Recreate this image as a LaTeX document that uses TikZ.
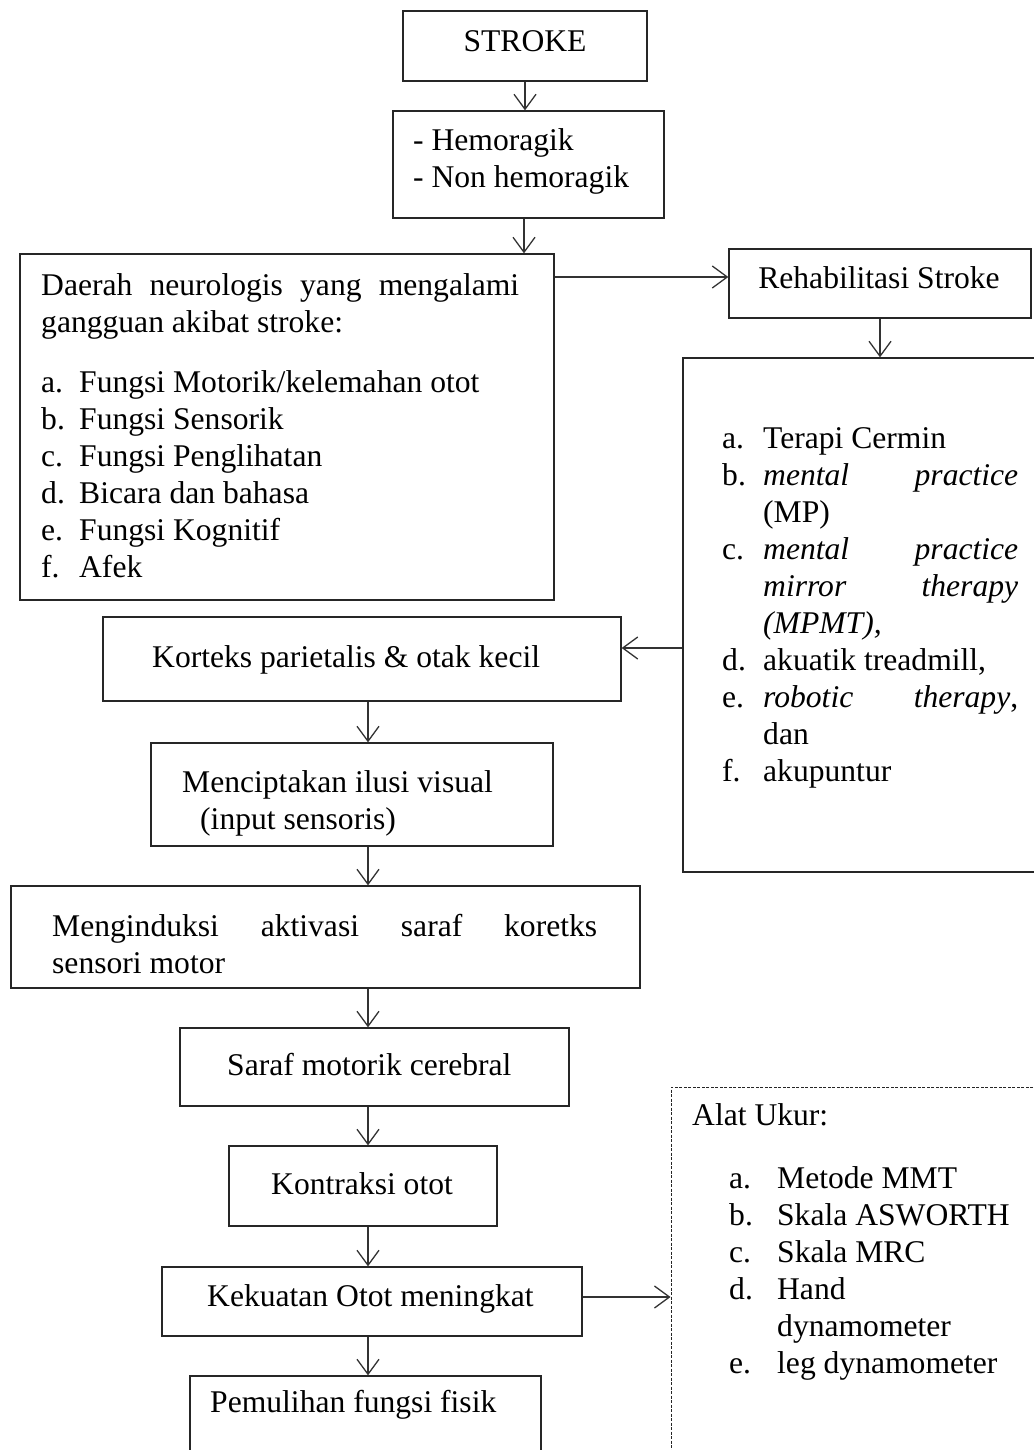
\documentclass[tikz,border=0pt]{standalone}
\usepackage{fontspec}
\setmainfont{Liberation Serif}
\usetikzlibrary{arrows.meta}
\begin{document}
\begin{tikzpicture}[x=1pt,y=-1pt,
  box/.style={draw=black!85, line width=1.3pt, inner sep=0pt, rectangle},
  dbox/.style={draw=black!85, line width=0.9pt, dash pattern=on 3pt off 1.5pt, inner sep=0pt, rectangle},
  txt/.style={inner sep=0pt, font=\fontsize{31.6}{37}\selectfont, text=black},
  blk/.style={txt, align=left, anchor=north west},
  arr/.style={draw=black!80, line width=1.3pt, -{Straight Barb[length=15pt,width=22pt]}}]
\useasboundingbox (0,0) rectangle (1033,1450);
\coordinate (spine) at (368,0);

% boxes
\node[box, minimum width=244pt, minimum height=70pt]  (stroke)  at (525,46) {};
\node[box, minimum width=271pt, minimum height=107pt] (hemo)    at (528.5,164.5) {};
\node[box, minimum width=534pt, minimum height=346pt] (daerah)  at (287,427) {};
\node[box, minimum width=302pt, minimum height=69pt]  (rehab)   at (880,283.5) {};
\node[box, minimum width=360pt, minimum height=514pt] (listbox) at (863,615) {};
\node[box, minimum width=518pt, minimum height=84pt]  (kort)    at (362,659) {};
\node[box, minimum width=402pt, minimum height=103pt] (menc)    at (352,794.5) {};
\node[box, minimum width=629pt, minimum height=102pt] (meng)    at (325.5,937) {};
\node[box, minimum width=389pt, minimum height=78pt]  (saraf)   at (374.5,1067) {};
\node[box, minimum width=268pt, minimum height=80pt]  (kontr)   at (363,1186) {};
\node[box, minimum width=420pt, minimum height=69pt]  (kek)     at (372,1301.5) {};
\node[box, minimum width=351pt, minimum height=94pt]  (pemul)   at (365.5,1423) {};
\node[dbox, minimum width=372pt, minimum height=383pt] (alat)   at (857,1278.5) {};

% texts
\node[txt, anchor=base] (tstroke) at (525,52) {STROKE};
\node[blk] (themo) at (413,124.1) {\strut- Hemoragik\\- Non hemoragik};
\node[blk] (tdaerah) at (41,269.1) {\strut\hbox to 478pt{Daerah\hfill neurologis\hfill yang\hfill mengalami}\\
gangguan akibat stroke:\\[23pt]
\makebox[38pt][l]{a.}Fungsi Motorik/kelemahan otot\\
\makebox[38pt][l]{b.}Fungsi Sensorik\\
\makebox[38pt][l]{c.}Fungsi Penglihatan\\
\makebox[38pt][l]{d.}Bicara dan bahasa\\
\makebox[38pt][l]{e.}Fungsi Kognitif\\
\makebox[38pt][l]{f.}Afek};
\node[txt, anchor=base] (trehab) at (879,288) {Rehabilitasi Stroke};
\node[blk] (tlist) at (722,422.1) {\strut\makebox[41pt][l]{a.}Terapi Cermin\\
\makebox[41pt][l]{b.}\hbox to 255pt{\textit{mental}\hfill\textit{practice}}\\
\hspace*{41pt}(MP)\\
\makebox[41pt][l]{c.}\hbox to 255pt{\textit{mental}\hfill\textit{practice}}\\
\hspace*{41pt}\hbox to 255pt{\textit{mirror}\hfill\textit{therapy}}\\
\hspace*{41pt}\textit{(MPMT),}\\
\makebox[41pt][l]{d.}akuatik treadmill,\\
\makebox[41pt][l]{e.}\hbox to 255pt{\textit{robotic}\hfill\textit{therapy},}\\
\hspace*{41pt}dan\\
\makebox[41pt][l]{f.}akupuntur};
\node[txt, anchor=base west] (tkort) at (152,667) {Korteks parietalis \& otak kecil};
\node[blk] (tmenc) at (182,766.1) {\strut Menciptakan ilusi visual\\\hspace*{18pt}(input sensoris)};
\node[blk] (tmeng) at (52,910.1) {\strut\hbox to 545pt{Menginduksi\hfill aktivasi\hfill saraf\hfill koretks}\\sensori motor};
\node[txt, anchor=base west] (tsaraf) at (227,1075) {Saraf motorik cerebral};
\node[txt, anchor=base west] (tkontr) at (271,1194) {Kontraksi otot};
\node[txt, anchor=base west] (tkek) at (207,1306) {Kekuatan Otot meningkat};
\node[txt, anchor=base west] (tpemul) at (210,1412) {Pemulihan fungsi fisik};
\node[blk] (talat) at (692,1099.1) {\strut Alat Ukur:\\[26pt]
\hspace*{37pt}\makebox[48pt][l]{a.}Metode MMT\\
\hspace*{37pt}\makebox[48pt][l]{b.}Skala ASWORTH\\
\hspace*{37pt}\makebox[48pt][l]{c.}Skala MRC\\
\hspace*{37pt}\makebox[48pt][l]{d.}Hand\\
\hspace*{85pt}dynamometer\\
\hspace*{37pt}\makebox[48pt][l]{e.}leg dynamometer};

% connectors
\draw[arr] (stroke.south) -- (stroke.south |- hemo.north);
\draw[arr] ([xshift=-4.5pt]hemo.south) -- ([xshift=-4.5pt]hemo.south |- daerah.north);
\draw[arr] ([yshift=6.5pt]rehab.west -| daerah.east) -- ([yshift=6.5pt]rehab.west);
\draw[arr] (rehab.south) -- (rehab.south |- listbox.north);
\draw[arr] ([yshift=11pt]kort.east -| listbox.west) -- ([yshift=11pt]kort.east);
\draw[arr] (kort.south -| spine) -- (menc.north -| spine);
\draw[arr] (menc.south -| spine) -- (meng.north -| spine);
\draw[arr] (meng.south -| spine) -- (saraf.north -| spine);
\draw[arr] (saraf.south -| spine) -- (kontr.north -| spine);
\draw[arr] (kontr.south -| spine) -- (kek.north -| spine);
\draw[arr] (kek.south -| spine) -- (pemul.north -| spine);
\draw[arr] ([yshift=4.5pt]kek.east) -- ([yshift=4.5pt]kek.east -| alat.west);
\end{tikzpicture}
\end{document}
